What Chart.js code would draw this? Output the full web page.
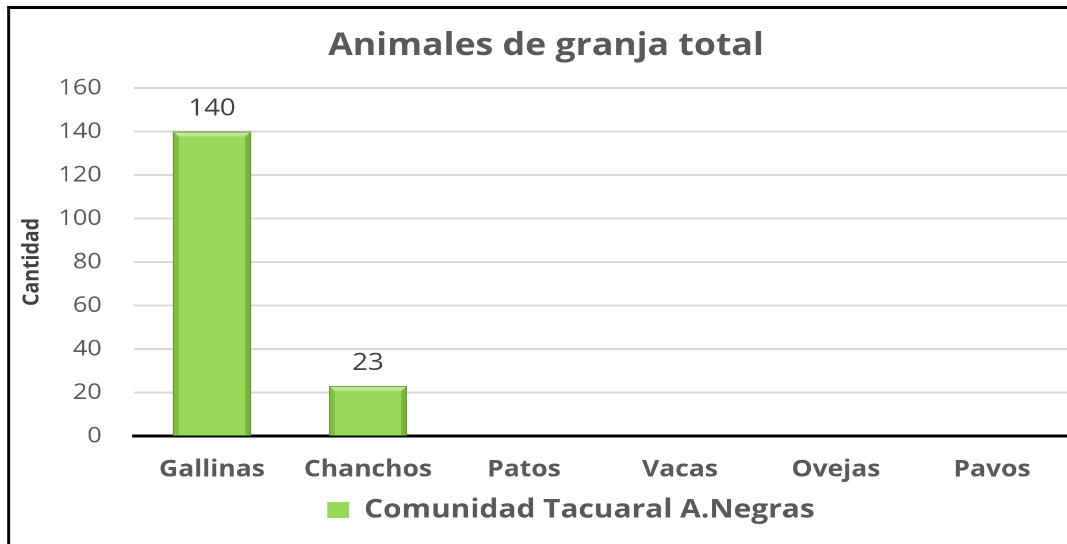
<!DOCTYPE html>
<html><head><meta charset="utf-8">
<script src="https://cdn.jsdelivr.net/npm/chart.js@4"></script>
<style>
html,body{margin:0;padding:0;background:#fff;overflow:hidden;width:1067px;height:544px}
#wrap{position:absolute;left:0;top:0;width:960px;height:544px;transform:scaleX(1.15);transform-origin:0 0}
#c{display:block}
</style></head>
<body><div id="wrap"><canvas id="c" width="960" height="544"></canvas></div>
<script>
// ---- data ----
const chartTitle = 'Animales de granja total';
const yAxisTitle = 'Cantidad';
const seriesName = 'Comunidad Tacuaral A.Negras';
const categories = ['Gallinas', 'Chanchos', 'Patos', 'Vacas', 'Ovejas', 'Pavos'];
const values = [140, 23, null, null, null, null];
const yTicks = [0, 20, 40, 60, 80, 100, 120, 140, 160];

const GREEN = '#98D95A';
const TEXT = '#595959';
const BASE_FONT = "'Open Sans', 'Noto Sans', sans-serif";

const framePlugin = {
  id: 'frame',
  afterDraw(chart) {
    const ctx = chart.ctx;
    ctx.save();
    ctx.fillStyle = '#000';
    ctx.fillRect(6.2, 6, 2.6, 1000);
    ctx.fillRect(6.2, 6, 2000, 3);
    ctx.restore();
  }
};

const bevelPlugin = {
  id: 'bevel',
  afterDatasetsDraw(chart) {
    const ctx = chart.ctx;
    chart.getSortedVisibleDatasetMetas().forEach(meta => {
      const ds = chart.data.datasets[meta.index];
      meta.data.forEach((bar, i) => {
        const v = ds.data[i];
        if (v === null || v === undefined) return;
        const p = bar.getProps(['x', 'y', 'base', 'width'], true);
        const l = p.x - p.width / 2, r = p.x + p.width / 2, t = p.y, b = p.base;
        const e = 5;
        ctx.save();
        ctx.fillStyle = 'rgba(70,120,20,0.28)';
        ctx.beginPath(); ctx.moveTo(l, t); ctx.lineTo(l + e, t + e); ctx.lineTo(l + e, b); ctx.lineTo(l, b); ctx.closePath(); ctx.fill();
        ctx.fillStyle = 'rgba(70,120,20,0.38)';
        ctx.beginPath(); ctx.moveTo(r, t); ctx.lineTo(r - e, t + e); ctx.lineTo(r - e, b); ctx.lineTo(r, b); ctx.closePath(); ctx.fill();
        ctx.fillStyle = 'rgba(255,255,255,0.35)';
        ctx.beginPath(); ctx.moveTo(l, t); ctx.lineTo(r, t); ctx.lineTo(r - e, t + e); ctx.lineTo(l + e, t + e); ctx.closePath(); ctx.fill();
        ctx.strokeStyle = 'rgba(90,140,40,0.8)';
        ctx.lineWidth = 1;
        ctx.strokeRect(l + 0.5, t + 0.5, r - l - 1, b - t);
        ctx.restore();
      });
    });
  }
};

const valueLabelPlugin = {
  id: 'valueLabels',
  afterDatasetsDraw(chart) {
    const ctx = chart.ctx;
    ctx.save();
    ctx.font = "24px " + BASE_FONT;
    ctx.fillStyle = '#404040';
    ctx.textAlign = 'center';
    ctx.textBaseline = 'alphabetic';
    chart.getSortedVisibleDatasetMetas().forEach(meta => {
      const ds = chart.data.datasets[meta.index];
      meta.data.forEach((bar, i) => {
        const v = ds.data[i];
        if (v === null || v === undefined) return;
        ctx.fillText(String(v), bar.x, bar.y - 16);
      });
    });
    ctx.restore();
  }
};

const shiftPlugin = {
  id: 'shiftBoxes',
  afterLayout(chart) {
    const t = chart.titleBlock;
    if (t) { t.left += 9.6; t.right += 9.6; }
    const lg = chart.legend;
    if (lg) { lg.left += 31.3; lg.right += 31.3; }
  }
};

new Chart(document.getElementById('c'), {
  type: 'bar',
  data: {
    labels: categories,
    datasets: [{
      label: seriesName,
      data: values,
      backgroundColor: GREEN,
      borderWidth: 0,
      categoryPercentage: 0.5,
      barPercentage: 1.0
    }]
  },
  options: {
    responsive: false,
    animation: false,
    devicePixelRatio: 2,
    layout: { padding: { left: 0, right: 29.6, top: 0, bottom: 11 } },
    plugins: {
      tooltip: { enabled: false },
      title: {
        display: true,
        text: chartTitle,
        color: TEXT,
        font: { family: BASE_FONT, size: 31, weight: 'bold' },
        padding: { top: 27.4, bottom: 23.4 }
      },
      legend: {
        display: true,
        position: 'bottom',
        labels: {
          color: TEXT,
          font: { family: BASE_FONT, size: 26, weight: 'bold' },
          boxWidth: 19,
          boxHeight: 16,
          padding: 8
        }
      }
    },
    scales: {
      x: {
        afterFit(scale) { scale.height = 53; },
        grid: { display: false, drawTicks: false },
        border: { display: true, color: '#000', width: 3 },
        ticks: {
          color: TEXT,
          font: { family: BASE_FONT, size: 23, weight: 'bold' },
          padding: 20,
          maxRotation: 0,
          autoSkip: false
        }
      },
      y: {
        min: yTicks[0],
        max: yTicks[yTicks.length - 1],
        afterFit(scale) { scale.width = 116.5; },
        afterBuildTicks(scale) { scale.ticks = yTicks.map(v => ({ value: v })); },
        grid: { color: '#D9D9D9', lineWidth: 2, drawTicks: false },
        border: { display: false },
        ticks: {
          color: TEXT,
          font: { family: BASE_FONT, size: 22 },
          padding: 28
        },
        title: {
          display: true,
          text: yAxisTitle,
          color: '#404040',
          font: { family: BASE_FONT, size: 19.5, weight: 'bold' },
          padding: { top: 16, bottom: 0 }
        }
      }
    }
  },
  plugins: [shiftPlugin, bevelPlugin, valueLabelPlugin, framePlugin]
});
</script>
</body></html>
